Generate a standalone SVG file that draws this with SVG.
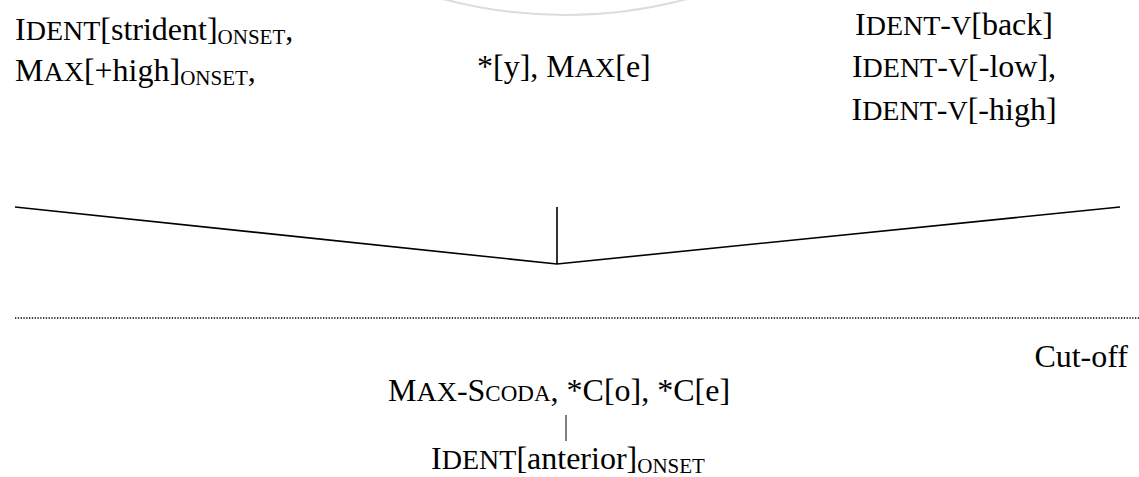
<svg xmlns="http://www.w3.org/2000/svg" width="1139" height="477" viewBox="0 0 1139 477">
  <style>
    .t { font-family: "Liberation Serif", "Times New Roman", serif; font-size: 32px; fill: #000; }
    .sc { font-size: 28px; }
    .sc2 { font-size: 23px; }
    .sub { font-size: 21px; }
    .edge { stroke: #000; stroke-width: 1.6; fill: none; }
    .cut { stroke: #000; stroke-width: 1.4; stroke-dasharray: 1.3 1.5; fill: none; }
  </style>

  <rect width="1139" height="477" fill="#fff"/>

  <!-- faint arc at the top edge -->
  <circle cx="565" cy="-457" r="472" fill="none" stroke="#dcdcdc" stroke-width="2"/>

  <g id="node-left">
    <text class="t" x="15" y="40">I<tspan class="sc">DENT</tspan>[strident]<tspan class="sub" dy="4">ONSET</tspan><tspan dy="-4">,</tspan></text>
    <text class="t" x="15" y="81">M<tspan class="sc">AX</tspan>[+high]<tspan class="sub" dy="4">ONSET</tspan><tspan dy="-4">,</tspan></text>
  </g>

  <g id="node-middle">
    <text class="t" x="477" y="77">*[y], M<tspan class="sc">AX</tspan>[e]</text>
  </g>

  <g id="node-right">
    <text class="t" x="954" y="35" text-anchor="middle">I<tspan class="sc">DENT</tspan>-<tspan class="sc">V</tspan>[back]</text>
    <text class="t" x="954" y="77" text-anchor="middle">I<tspan class="sc">DENT</tspan>-<tspan class="sc">V</tspan>[-low],</text>
    <text class="t" x="954" y="120" text-anchor="middle">I<tspan class="sc">DENT</tspan>-<tspan class="sc">V</tspan>[-high]</text>
  </g>

  <g id="connectors">
    <polyline class="edge" points="15,207 557,264 1120,207"/>
    <line class="edge" x1="557" y1="207" x2="557" y2="264"/>
    <line class="cut" x1="15" y1="318" x2="1139" y2="318"/>
    <line x1="566" y1="415" x2="566" y2="441" stroke="#000" stroke-width="1"/>
  </g>

  <g id="label-cutoff">
    <text class="t" x="1128" y="367" text-anchor="end">Cut-off</text>
  </g>

  <g id="node-lower">
    <text class="t" x="388" y="401">M<tspan class="sc">AX</tspan>-S<tspan class="sc2">CODA</tspan>, *C[o], *C[e]</text>
  </g>

  <g id="node-bottom">
    <text class="t" x="568" y="469" text-anchor="middle">I<tspan class="sc">DENT</tspan>[anterior]<tspan class="sub" dy="4">ONSET</tspan></text>
  </g>
</svg>
